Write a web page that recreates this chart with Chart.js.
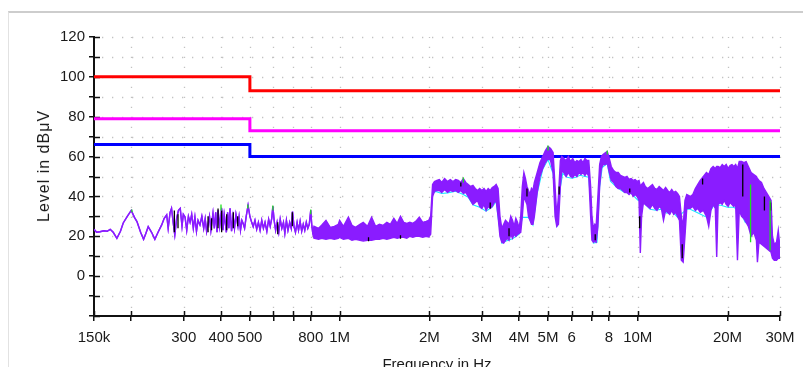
<!DOCTYPE html>
<html><head><meta charset="utf-8">
<script src="https://cdn.jsdelivr.net/npm/chart.js@4.4.0/dist/chart.umd.min.js"></script>
<style>
html,body{margin:0;padding:0;background:#fff;overflow:hidden;width:803px;height:367px;}
#frame{position:absolute;left:8px;top:11px;width:795px;height:356px;border-top:2px solid #cdcdcd;border-left:1px solid #e2e2e2;box-sizing:border-box;}
#c{position:absolute;left:0;top:0;}
.ttl{position:absolute;font-family:"Liberation Sans",Arial,sans-serif;color:#1a1a1a;white-space:nowrap;}
#ytitle{left:44px;top:166px;font-size:16px;line-height:16px;letter-spacing:1px;transform:translate(-50%,-50%) rotate(-90deg);}
#xtitle{left:437px;top:356px;font-size:15px;line-height:15px;transform:translateX(-50%);}
</style></head><body>
<div id="frame"></div>
<canvas id="c" width="803" height="367"></canvas>
<div id="ytitle" class="ttl">Level in dBμV</div>
<div id="xtitle" class="ttl">Frequency in Hz</div>
<script>
// ---- axis ticks ----
const xTickValues = [0.15, 0.2, 0.3, 0.4, 0.5, 0.6, 0.7, 0.8, 1, 2, 3, 4, 5, 6, 7, 8, 10, 20, 30];
const xTickLabels = ['150k', '', '300', '400', '500', '', '', '800', '1M', '2M', '3M', '4M', '5M', '6', '', '8', '10M', '20M', '30M'];

// ---- limit lines (frequency in MHz, level in dBµV) ----
const limitFreq = [0.15, 0.5, 0.5, 30];
const limitRed = [100, 100, 93, 93];
const limitMagenta = [79, 79, 73, 73];
const limitBlue = [66, 66, 60, 60];

// ---- measured trace: [MHz, level] single line, or [MHz, max, min] where the trace forms a band ----
const seg150k = [
[0.150,23.5],[0.153,22],[0.157,22.3],[0.162,22.8],[0.166,22.5],[0.170,23.5],[0.174,22],[0.179,19],
[0.184,22.5],[0.188,26.7],[0.194,30],[0.200,33],[0.205,29.5],[0.209,27.4],[0.215,22],[0.220,18.5],
[0.224,21.5],[0.228,24.8],[0.234,22],[0.240,18.5],[0.246,22],[0.253,25.7]
];
const seg250k = [
[0.258,29],[0.263,30.7],[0.266,24],[0.270,32],[0.273,34],[0.277,26],[0.280,20.7],[0.284,29],[0.288,33],
[0.292,34],[0.296,25],[0.299,31],[0.303,29.7],[0.307,23],[0.311,30],[0.315,27],[0.319,31],[0.323,24],
[0.327,29.7],[0.331,22.5],[0.335,28],[0.340,25.7],[0.345,30],[0.350,24],[0.354,28.8],[0.358,22.3],
[0.362,26],[0.366,30],[0.370,23],[0.376,31.5],[0.380,24],[0.384,32],[0.388,22],[0.391,33],[0.396,25],
[0.402,34],[0.406,23],[0.410,31],[0.413,27.4],[0.417,22],[0.421,32],[0.425,24],[0.429,34],[0.434,22.5],
[0.439,30],[0.444,24],[0.449,31],[0.456,25],[0.460,29.7],[0.465,23],[0.470,28],[0.474,26.7],[0.480,24],
[0.486,30],[0.493,35.5],[0.500,30],[0.507,27],[0.513,24.8],[0.520,28],[0.527,23.5],[0.534,27],[0.541,23]
];
const seg550k = [
[0.548,28],[0.555,24],[0.562,27],[0.570,22.5],[0.578,28.5],[0.585,25],[0.592,29],[0.597,35],[0.603,28],
[0.610,23],[0.617,27],[0.625,22],[0.632,28.5],[0.640,24],[0.648,27],[0.655,21.5],[0.663,28],[0.671,23],
[0.680,27],[0.688,24],[0.695,32.4],[0.703,25],[0.711,22],[0.720,27],[0.728,23],[0.737,27.5],[0.746,22.5],
[0.755,26],[0.764,23],[0.773,27],[0.782,24],[0.791,26],[0.800,33],[0.806,26],[0.812,22]
];
const seg800k = [
[0.82,25,19],[0.85,24,18.5],[0.87,25.5,19],[0.90,28,18.5],[0.93,24.5,19],[0.96,25,18.5],[0.99,26,19],
[1.00,28,19.5],[1.03,25,18.5],[1.07,29.6,19],[1.10,25.5,18],[1.13,24.5,18.5],[1.17,26,18],[1.20,27,17.6],
[1.24,25,18],[1.28,29.6,18],[1.32,25,18.5],[1.36,26,18.5],[1.40,25.5,19],[1.44,27,18.5],[1.48,26,19],
[1.52,29,19.5],[1.56,26.5,19],[1.60,30,19.5],[1.64,27,19.5],[1.68,26.5,19],[1.72,27,20],[1.76,26.5,19.5],
[1.80,27.5,20],[1.85,29.6,20],[1.90,27,19.5],[1.95,27.5,20],[1.99,28,19.7],[2.02,30,21],[2.05,46,40],[2.08,47.5,42.5]
];
const seg2M = [
[2.12,48,43],[2.16,48.5,43],[2.20,47,42],[2.25,49,43.5],[2.30,47.5,42],[2.35,48.5,43],[2.40,47.5,42.5],
[2.45,48.5,43],[2.50,48,42],[2.55,47,43],[2.60,49,41.5],[2.65,47,42],[2.70,46,40],[2.75,45,38],[2.80,45.5,36],
[2.85,44,37],[2.90,43,38],[2.95,44,35],[3.00,43,34],[3.05,44,36],[3.10,42.5,33],[3.15,44,35],[3.20,43,34],
[3.25,44.5,35],[3.30,45,37],[3.35,46,38],[3.40,44,30],[3.45,30,20],[3.50,24,17],[3.55,26,16.6],[3.60,28,18],
[3.65,27,19],[3.70,26,18],[3.75,30,21],[3.80,28,19],[3.85,25,21],[3.90,29,20],[3.95,27,21],[4.00,24,21.5],[4.05,30,22]
];
const seg4M = [
[4.10,45,30],[4.15,52,40],[4.20,49,38],[4.25,45,36],[4.30,43,30],[4.35,41,28],[4.40,44,26],[4.45,43,26],
[4.50,47,30],[4.60,52,42],[4.70,57,50],[4.80,60,54],[4.90,63,57],[5.00,65,59],[5.10,64,58],[5.20,62,52],
[5.28,45,30],[5.35,30,25],[5.42,40,26],[5.50,58,45],[5.56,60,53],[5.65,59,52],[5.75,58,50],[5.85,60,52],
[5.95,57.5,50],[6.05,59,49.5],[6.15,57,51],[6.25,58,50],[6.35,57.5,52],[6.45,58.5,51],[6.55,57,52],
[6.65,59,50.5],[6.75,58,52],[6.85,58,50],[6.95,45,30],[7.02,30,18],[7.10,24,17],[7.18,26,17.5],[7.25,25,17],
[7.35,40,25],[7.45,56,45],[7.55,60,54],[7.65,61,56],[7.80,62,56],[7.90,62.5,57],[8.00,60,53]
];
const seg8M = [
[8.15,55,48],[8.30,53,47],[8.45,52,45],[8.60,52,44],[8.75,50.5,44],[8.90,50,43],[9.05,49.5,42],[9.20,50,42],
[9.35,48.5,41],[9.50,49,42],[9.65,48,40],[9.80,48.5,41],[9.95,47.5,40],[10.1,48,38],[10.2,45,11.6],[10.3,46,30],
[10.45,47,37],[10.6,45,36],[10.8,44,35],[11.0,45,34],[11.2,46,36],[11.4,44,34],[11.6,43.5,33],[11.8,45,35],
[12.0,44,34],[12.2,43,28],[12.4,44.5,33],[12.6,43,32],[12.8,42,31],[13.0,43.5,33],[13.2,42,31],[13.4,42.5,32],
[13.6,41.5,30],[13.8,40,28],[14.0,30,8],[14.2,25,7],[14.4,38,20],[14.6,41,34]
];
const seg15M = [
[15.0,40,34],[15.3,41,35],[15.6,44,33],[15.9,46,34],[16.2,48,32],[16.6,50,33],[17.0,52,30],[17.3,51,25],
[17.6,54,33],[17.9,55,36],[18.2,54,34],[18.4,55,9.6],[18.6,55,36],[18.9,54.5,37],[19.2,56,36],[19.5,55,38],
[19.8,56,36],[20.1,54,35],[20.4,55.5,37],[20.7,56,36],[21.0,55,35],[21.3,56,36],[21.6,54,8],[21.9,57.5,33],
[22.3,57.5,30],[22.7,57,29],[23.1,57.5,27],[23.5,55,25],[24.0,52,20],[24.5,51,22],[25.0,50,18],[25.2,49,7],
[25.5,48,17],[26.0,47,16],[26.5,44,15],[27.0,42,14],[27.5,40,13],[28.0,38,12],[28.3,20,9],[28.7,16,8],
[29.2,17,8],[29.6,23,9],[30.0,14,9]
];

// ---- secondary detector traces, visible only as fringes and specks at the edges of the main trace ----
const cyanEdge = [
[2.05,41.5],[2.1,42.5],[2.2,41.5],[2.3,41.8],[2.45,42.6],[2.6,41],[2.7,39.6],[2.8,35.8],[2.95,34.6],[3.1,32.6],
[3.25,34.7],[3.35,37.6],[3.4,29.5],[3.5,16.5],[3.6,17.5],[3.8,18.8],[4.0,21],[4.1,29.5],[4.3,29.5],[4.45,25.6],
[4.6,41.6],[4.8,53.6],[5.0,58.5],[5.2,51.5],[5.35,24.5],[5.5,44.5],[5.6,51.6],[5.8,49.6],[6.0,49.1],[6.2,49.6],
[6.4,50.6],[6.6,50.1],[6.85,49.6],[7.0,29.5],[7.1,16.6],[7.3,17],[7.45,44.6],[7.6,54.5],[7.9,56.6],[8.1,47.6],
[8.5,44.6],[9.0,42.1],[9.5,41.6],[10.0,38.2],[10.5,36.6],[11.0,33.6],[11.5,33.1],[12.0,33.6],[12.5,31.6],
[13.0,32.6],[13.6,29.6],[14.6,33.6],[15.0,33.6],[16.0,31.6],[17.0,29.6],[17.5,32.6],[18.0,35.6],[19.0,35.6],
[20.0,34.6],[21.0,34.6],[22.0,32.6],[23.0,26.6]
];
const blackMarks = [
[0.279,33,22],[0.287,31,24],[0.362,30,22],[0.372,29,23],[0.391,34,24],[0.402,33,22],[0.418,31,23],[0.44,32,24],
[0.455,30,25],[0.62,27,21],[0.694,32,25],[1.25,19.5,17.5],[1.6,20.5,18.8],[2.55,47,45],[3.2,37,34],[3.7,24,20],
[4.25,44,40],[5.45,45,41],[7.2,21,18],[9.4,44,42],[10.15,30,24],[14.1,16,9],[16.5,49,46],[22.5,56,40],
[26.6,40,33],[27.9,37,33]
];
const greenMarks = [
[0.201,33.5,32],[0.4,36,33],[0.492,36,34],[0.597,35.5,33],[0.8,33.5,31],[2.6,49.5,47],[5.0,65.5,63],
[7.9,63,61],[23.9,46,17],[27.8,38,13]
];

const traceRows = [].concat(seg150k, seg250k, seg550k, seg800k, seg2M, seg4M, seg8M, seg15M);
const traceMax = traceRows.map(r => ({x: r[0], y: r[1]}));
const traceMin = traceRows.map(r => ({x: r[0], y: r.length > 2 ? r[2] : r[1]}));
const limitPts = arr => limitFreq.map((f, i) => ({x: f, y: arr[i]}));
const markPts = marks => marks.flatMap(m => [{x: m[0], y: m[1]}, {x: m[0], y: m[2]}, {x: m[0], y: null}]);

const PURPLE = '#8a1cff';
const FONT = '"Liberation Sans", Arial, sans-serif';

const gridPlugin = {
  id: 'emcGrid',
  beforeDatasetsDraw(chart) {
    const {ctx, chartArea: a, scales: {x, y}} = chart;
    ctx.save();
    ctx.strokeStyle = '#c2c2c2';
    ctx.lineWidth = 1.3;
    ctx.setLineDash([1.3, 8.7]);
    y.ticks.forEach(t => {
      if (t.value <= y.min) return;
      const py = Math.round(y.getPixelForValue(t.value)) + 0.5;
      ctx.beginPath(); ctx.moveTo(a.left + 8, py); ctx.lineTo(a.right, py); ctx.stroke();
    });
    x.ticks.forEach(t => {
      if (t.value <= x.min) return;
      const px = Math.round(x.getPixelForValue(t.value)) + 0.5;
      ctx.beginPath(); ctx.moveTo(px, a.bottom - 8); ctx.lineTo(px, a.top); ctx.stroke();
    });
    ctx.setLineDash([]);
    ctx.strokeStyle = '#111';
    ctx.lineWidth = 1.5;
    y.ticks.forEach(t => {
      const py = Math.round(y.getPixelForValue(t.value)) + 0.5;
      ctx.beginPath(); ctx.moveTo(a.left, py); ctx.lineTo(a.left + 6, py); ctx.stroke();
    });
    x.ticks.forEach(t => {
      const px = Math.round(x.getPixelForValue(t.value)) + 0.5;
      ctx.beginPath(); ctx.moveTo(px, a.bottom); ctx.lineTo(px, a.bottom - 5); ctx.stroke();
    });
    ctx.restore();
  }
};

new Chart(document.getElementById('c'), {
  type: 'line',
  data: {
    datasets: [
      {label: 'max', data: traceMax, borderColor: PURPLE, borderWidth: 1.4, pointRadius: 0, fill: false, order: 2},
      {label: 'min', data: traceMin, borderColor: PURPLE, backgroundColor: PURPLE, borderWidth: 1.4, pointRadius: 0, fill: '-1', order: 3},
      {label: 'cyan', data: cyanEdge.map(r => ({x: r[0], y: r[1]})), borderColor: '#19e6ff', borderWidth: 1.1, pointRadius: 0, fill: false, order: 4},
      {label: 'black', data: markPts(blackMarks), borderColor: '#000', borderWidth: 1.3, pointRadius: 0, fill: false, spanGaps: false, order: 1},
      {label: 'green', data: markPts(greenMarks), borderColor: '#1fe01f', borderWidth: 1.3, pointRadius: 0, fill: false, spanGaps: false, order: 0},
      {label: 'limit1', data: limitPts(limitRed), borderColor: '#ff0000', borderWidth: 3, pointRadius: 0, fill: false, order: 5},
      {label: 'limit2', data: limitPts(limitMagenta), borderColor: '#ff00ff', borderWidth: 3, pointRadius: 0, fill: false, order: 6},
      {label: 'limit3', data: limitPts(limitBlue), borderColor: '#0000ff', borderWidth: 3, pointRadius: 0, fill: false, order: 7}
    ]
  },
  options: {
    responsive: false,
    animation: false,
    events: [],
    devicePixelRatio: 1,
    layout: {padding: {left: 0, right: 23, top: 37, bottom: 0}},
    elements: {line: {tension: 0, borderCapStyle: 'butt', borderJoinStyle: 'miter'}},
    plugins: {legend: {display: false}, tooltip: {enabled: false}, title: {display: false}},
    scales: {
      x: {
        type: 'logarithmic', min: 0.15, max: 30,
        afterBuildTicks: s => { s.ticks = xTickValues.map(v => ({value: v})); },
        afterFit: s => { s.height = 51; },
        ticks: {autoSkip: false, maxRotation: 0, minRotation: 0, padding: 8, color: '#1a1a1a',
          font: {family: FONT, size: 15}, callback: (v, i) => xTickLabels[i]},
        grid: {drawOnChartArea: false, drawTicks: true, tickLength: 5, color: '#111', lineWidth: 1.5},
        border: {display: true, color: '#111', width: 2}
      },
      y: {
        type: 'linear', min: -20, max: 120,
        afterFit: s => { s.width = 94; },
        ticks: {stepSize: 10, autoSkip: false, padding: 4, color: '#1a1a1a',
          font: {family: FONT, size: 15}, callback: v => (v >= 0 && v % 20 === 0) ? String(v) : ''},
        grid: {drawOnChartArea: false, drawTicks: true, tickLength: 5, color: '#111', lineWidth: 1.5},
        border: {display: true, color: '#111', width: 2}
      }
    }
  },
  plugins: [gridPlugin]
});
</script>
</body></html>
